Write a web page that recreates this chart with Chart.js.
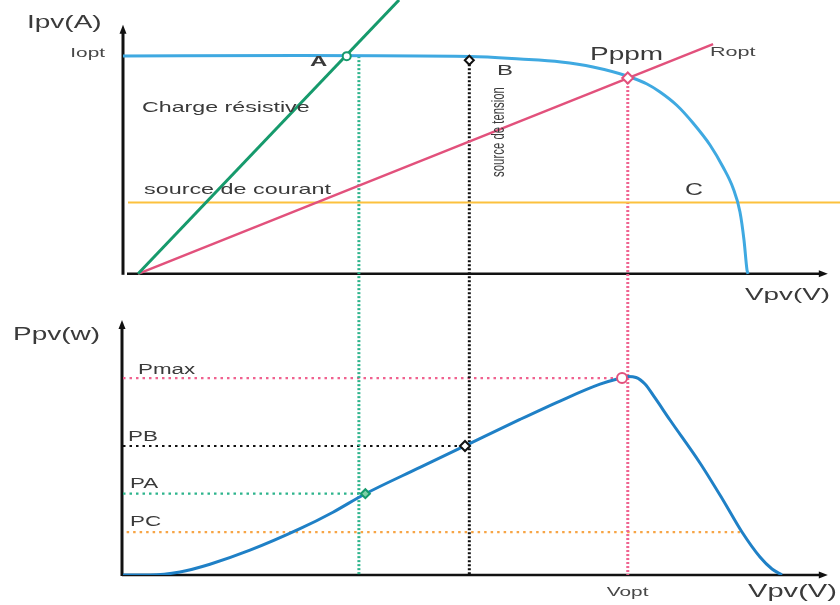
<!DOCTYPE html>
<html>
<head>
<meta charset="utf-8">
<script src="https://cdn.jsdelivr.net/npm/chart.js@4/dist/chart.umd.min.js"></script>
<style>
  html, body { margin: 0; padding: 0; background: #ffffff; }
  #wrap { width: 840px; height: 605px; position: relative; }
</style>
</head>
<body>
<div id="wrap"><canvas id="c" width="840" height="605"></canvas></div>
<script>
// ---- I-V characteristic of the PV generator ----
const ivVoltage = [0, 24.69, 48.40, 55.37, 61.09, 65.55, 70.29, 73.08, 74.90, 77.27, 79.50, 81.87, 83.68, 85.08, 86.05, 86.61, 87.03, 87.17];
const ivCurrent = [7.955, 7.973, 7.937, 7.845, 7.736, 7.553, 7.225, 6.932, 6.640, 6.147, 5.508, 4.704, 3.901, 3.134, 2.257, 1.234, 0.139, 0];

// ---- P-V characteristic ----
const pvVoltage = [0, 3.77, 7.95, 12.13, 17.71, 24.69, 29.29, 33.75, 41.42, 47.98, 55.37, 60.95, 66.53, 69.32, 70.43, 71.55, 72.80, 74.20, 76.29, 80.47, 83.68, 86.33, 88.84, 90.52, 91.91];
const pvPower   = [0, 0, 1.52, 5.48, 12.59, 23.51, 31.89, 41.13, 54.64, 66.12, 79.02, 88.36, 96.89, 99.94, 100.75, 100.3, 97.0, 89.9, 78.71, 56.88, 38.09, 21.84, 9.14, 3.05, 0];

// ---- load lines ----
const resistiveV = [2.1, 38.5];   // charge résistive
const resistiveI = [0, 10];
const roptV = [2.1, 82.3];        // Ropt
const roptI = [0, 8.39];
const currentSrcV = [0.7, 100];   // source de courant
const currentSrcI = [2.6, 2.6];

// ---- operating points ----
const opNames   = ['A', 'B', 'Pppm'];
const opVoltage = [31.2, 48.3, 70.4];
const opCurrent = [7.95, 7.80, 7.15];
const dropVoltage = [32.9, 48.3, 70.4];       // vertical guides A, B, Pppm
const powerNames   = ['PA', 'PB', 'Pmax'];
const powerVoltage = [33.8, 47.7, 69.6];
const powerValue   = [41.3, 65.5, 100];

// ---- power levels on the P axis ----
const levelNames = ['Pmax', 'PB', 'PA', 'PC'];
const levelPower = [100, 65.5, 41.3, 21.8];
const levelEndV  = [69.3, 47.5, 33.6, 86.3];
const levelStartV = [0, 0, 0, -0.4];

const I_OPT = 7.955;
const V_OPT = 70.4;

// axis ranges
const X_MIN = 0, X_MAX = 100;
const I_MIN = -11, I_MAX = 10;
const P_MIN = 0, P_MAX = 292;
const I_ARROW = 9.1, P_ARROW = 129.5, X_ARROW = 98.3;

const BLUE_IV = '#3fa9e1';
const BLUE_PV = '#1f80c6';
const GREEN = '#169a6c';
const GREEN_DOT = '#2db48c';
const PINK = '#e2517c';
const PINK_DOT = '#f0628f';
const ORANGE = '#fcc13e';
const ORANGE_DOT = '#f7a545';
const BLACK = '#111111';

const pts = (xs, ys) => xs.map((x, i) => ({ x, y: ys[i] }));

function lineSet(data, yAxisID, color, width, extra) {
  return Object.assign({
    data, yAxisID, xAxisID: 'x',
    borderColor: color, borderWidth: width,
    pointRadius: 0, fill: false, tension: 0
  }, extra || {});
}

const datasets = [];
const opPts = pts(opVoltage, opCurrent);
const powPts = pts(powerVoltage, powerValue);

// markers first so they sit on top
datasets.push(lineSet([opPts[0]], 'yI', GREEN, 2, {
  showLine: false, pointRadius: 4, pointStyle: 'circle', pointBackgroundColor: '#ffffff', pointBorderWidth: 2 }));
datasets.push(lineSet([opPts[1]], 'yI', BLACK, 2, {
  showLine: false, pointRadius: 4.5, pointStyle: 'rectRot', pointBackgroundColor: '#ffffff', pointBorderWidth: 2 }));
datasets.push(lineSet([opPts[2]], 'yI', PINK, 2, {
  showLine: false, pointRadius: 5.5, pointStyle: 'rectRot', pointBackgroundColor: '#ffffff', pointBorderWidth: 2 }));
datasets.push(lineSet([powPts[0]], 'yP', GREEN, 2, {
  showLine: false, pointRadius: 4.5, pointStyle: 'rectRot', pointBackgroundColor: '#7fd0a8', pointBorderWidth: 2 }));
datasets.push(lineSet([powPts[1]], 'yP', BLACK, 2, {
  showLine: false, pointRadius: 5, pointStyle: 'rectRot', pointBackgroundColor: '#ffffff', pointBorderWidth: 2 }));
datasets.push(lineSet([powPts[2]], 'yP', PINK, 2, {
  showLine: false, pointRadius: 5, pointStyle: 'circle', pointBackgroundColor: '#ffffff', pointBorderWidth: 2 }));

// curves
datasets.push(lineSet(pts(ivVoltage, ivCurrent), 'yI', BLUE_IV, 3, { cubicInterpolationMode: 'monotone' }));
datasets.push(lineSet(pts(pvVoltage, pvPower), 'yP', BLUE_PV, 3, { cubicInterpolationMode: 'monotone' }));

// load lines
datasets.push(lineSet(pts(resistiveV, resistiveI), 'yI', GREEN, 3));
datasets.push(lineSet(pts(roptV, roptI), 'yI', PINK, 2.5));
datasets.push(lineSet(pts(currentSrcV, currentSrcI), 'yI', ORANGE, 2));

// vertical guides from each operating point down to the V axis
const dropColors = [GREEN_DOT, BLACK, PINK_DOT];
dropVoltage.forEach((v, i) => {
  datasets.push(lineSet([{ x: v, y: opCurrent[i] }, { x: v, y: I_MIN }], 'yI', dropColors[i], 3,
    { borderDash: [2, 2] }));
});

// horizontal guides to the power levels
const levelColors = [PINK_DOT, BLACK, GREEN_DOT, ORANGE_DOT];
levelPower.forEach((p, i) => {
  datasets.push(lineSet([{ x: levelStartV[i], y: p }, { x: levelEndV[i], y: p }], 'yP', levelColors[i], 2.2,
    { borderDash: [2.5, 4] }));
});

const SX = 1.6;
const FONT = '"Liberation Sans", Arial, Helvetica, sans-serif';
function label(ctx, txt, x, y, size, o) {
  o = o || {};
  ctx.save();
  ctx.translate(x, y);
  ctx.scale(SX, 1);
  if (o.rot) ctx.rotate(o.rot);
  ctx.font = (o.bold ? 'bold ' : '') + size + 'px ' + FONT;
  ctx.fillStyle = o.color || '#3a3a3a';
  ctx.textAlign = o.align || 'left';
  ctx.textBaseline = o.base || 'middle';
  ctx.fillText(txt, 0, 0);
  ctx.restore();
}

function arrowLine(ctx, x1, y1, x2, y2, width) {
  const ang = Math.atan2(y2 - y1, x2 - x1);
  const len = 9, half = 3.5;
  ctx.save();
  ctx.strokeStyle = BLACK;
  ctx.fillStyle = BLACK;
  ctx.lineWidth = width;
  ctx.beginPath();
  ctx.moveTo(x1, y1);
  ctx.lineTo(x2 - Math.cos(ang) * len * 0.6, y2 - Math.sin(ang) * len * 0.6);
  ctx.stroke();
  ctx.beginPath();
  ctx.moveTo(x2, y2);
  ctx.lineTo(x2 - Math.cos(ang) * len + Math.sin(ang) * half, y2 - Math.sin(ang) * len - Math.cos(ang) * half);
  ctx.lineTo(x2 - Math.cos(ang) * len - Math.sin(ang) * half, y2 - Math.sin(ang) * len + Math.cos(ang) * half);
  ctx.closePath();
  ctx.fill();
  ctx.restore();
}

const axesPlugin = {
  id: 'pvAxes',
  beforeDatasetsDraw(chart) {
    const { ctx } = chart;
    const x = chart.scales.x, yI = chart.scales.yI, yP = chart.scales.yP;
    const x0 = x.getPixelForValue(0);
    // I-V axes
    arrowLine(ctx, x0, yI.getPixelForValue(0) + 1, x0, yI.getPixelForValue(I_ARROW), 3);
    arrowLine(ctx, x0 + 4, yI.getPixelForValue(0), x.getPixelForValue(X_ARROW), yI.getPixelForValue(0), 2.5);
    // P-V axes
    arrowLine(ctx, x0 - 1, yP.getPixelForValue(0) + 1, x0 - 1, yP.getPixelForValue(P_ARROW), 3);
    arrowLine(ctx, x0 - 1, yP.getPixelForValue(0), x.getPixelForValue(X_ARROW), yP.getPixelForValue(0), 2.5);
  },
  afterDraw(chart) {
    const { ctx } = chart;
    const x = chart.scales.x, yI = chart.scales.yI, yP = chart.scales.yP;
    const x0 = x.getPixelForValue(0);

    // I-V chart texts
    label(ctx, 'Ipv(A)', 27, 23, 17.5);
    label(ctx, 'Iopt', x0 - 18, yI.getPixelForValue(I_OPT) - 3, 13, { align: 'right', color: '#474747' });
    label(ctx, opNames[0], 310, 62, 15, { bold: true });
    label(ctx, opNames[1], 497, 71, 15);
    label(ctx, opNames[2], 590, 60, 17.5, { base: 'alphabetic' });
    label(ctx, 'Ropt', 710, 52, 13.5, { color: '#474747' });
    label(ctx, 'Charge résistive', 142, 108, 14.5);
    label(ctx, 'source de courant', 144, 190, 14.6);
    label(ctx, 'source de tension', 499, 132, 11.4, { rot: -Math.PI / 2, align: 'center' });
    label(ctx, 'C', 685, 191, 15.6);
    label(ctx, 'Vpv(V)', 745, 295, 17.4);

    // P-V chart texts
    label(ctx, 'Ppv(w)', 13, 335, 17.5);
    const levelLabelX = [138, 128, 130, 130];
    const levelLabelDy = [-8, -9, -10, -10];
    levelNames.forEach((n, i) => {
      label(ctx, n, levelLabelX[i], yP.getPixelForValue(levelPower[i]) + levelLabelDy[i], 14);
    });
    label(ctx, 'Vopt', x.getPixelForValue(V_OPT) - 21, 592, 13, { color: '#474747' });
    label(ctx, 'Vpv(V)', 748, 592, 18.2);
  }
};

new Chart(document.getElementById('c'), {
  type: 'line',
  data: { datasets },
  options: {
    responsive: false,
    animation: false,
    devicePixelRatio: 1,
    layout: { autoPadding: false, padding: { left: 123, right: 0, top: 0, bottom: 30 } },
    plugins: { legend: { display: false }, tooltip: { enabled: false } },
    elements: { line: { borderCapStyle: 'butt' } },
    scales: {
      x:  { type: 'linear', min: X_MIN, max: X_MAX, display: false },
      yI: { type: 'linear', min: I_MIN, max: I_MAX, display: false },
      yP: { type: 'linear', min: P_MIN, max: P_MAX, display: false }
    }
  },
  plugins: [axesPlugin]
});
</script>
</body>
</html>
